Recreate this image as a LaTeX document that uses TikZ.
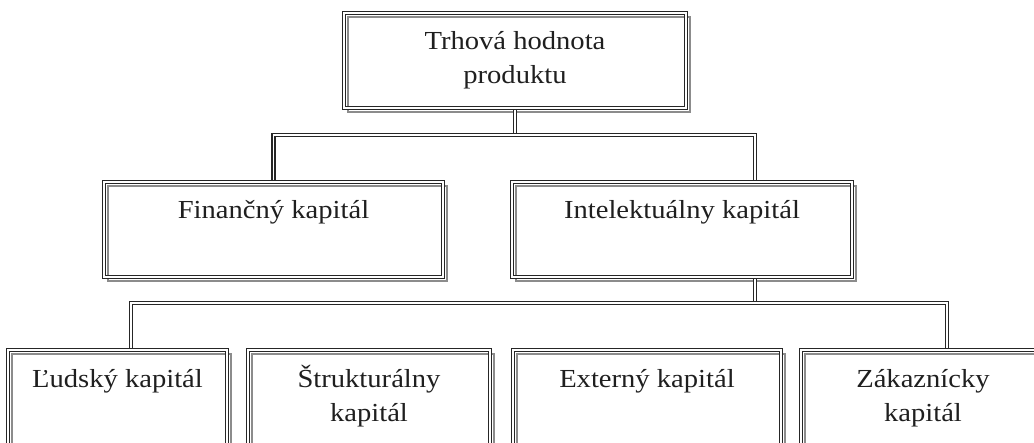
\documentclass[tikz,border=0pt]{standalone}
\usepackage{fontspec}
\setmainfont[FakeStretch=1.1]{Liberation Serif}
\begin{document}
\begin{tikzpicture}[x=1pt,y=-1pt,
  frame/.style={draw=black!85, line width=1.7pt, double=white, double distance=1.1pt,
    rectangle, outer sep=0pt, inner sep=0pt, anchor=north west,
    preaction={draw=black!45, line width=1.7pt,
      transform canvas={xshift=4pt,yshift=-4pt}}},
  lbl/.style={font=\fontsize{26}{34}\selectfont, text=black!88, inner sep=0pt,
    align=center, anchor=base},
  conn/.style={draw=black!85, line width=1.7pt, double=white, double distance=1.1pt}]
\useasboundingbox (0,0) rectangle (1034,443);
\clip (0,0) rectangle (1034,443);

% boxes
\node[frame, minimum width=342pt, minimum height=95pt] (top) at (344,13) {};
\node[frame, minimum width=339pt, minimum height=95pt] (fin) at (104,182) {};
\node[frame, minimum width=340pt, minimum height=95pt] (int) at (512,182) {};
\node[frame, minimum width=219pt, minimum height=110pt] (lud) at (8,350) {};
\node[frame, minimum width=242pt, minimum height=110pt] (str) at (248,350) {};
\node[frame, minimum width=268pt, minimum height=110pt] (ext) at (513,350) {};
\node[frame, minimum width=244pt, minimum height=110pt] (zak) at (801,350) {};

% labels (a node's base anchor sits on its last line)
\node[lbl] (top-t) at ([yshift=-71pt]top.north) {Trhová hodnota\\produktu};
\node[lbl] (fin-t) at ([yshift=-37pt]fin.north) {Finančný kapitál};
\node[lbl] (int-t) at ([yshift=-37pt]int.north) {Intelektuálny kapitál};
\node[lbl] (lud-t) at ([yshift=-38pt]lud.north) {Ľudský kapitál};
\node[lbl] (str-t) at ([yshift=-72pt]str.north) {Štrukturálny\\kapitál};
\node[lbl] (ext-t) at ([yshift=-38pt]ext.north) {Externý kapitál};
\node[lbl] (zak-t) at ([yshift=-72pt]zak.north) {Zákaznícky\\kapitál};

% connector points
\coordinate (h1) at (0,135);
\coordinate (h2) at (0,303);
\coordinate (ia) at ([xshift=73pt]int.north);
\coordinate (ib) at ([xshift=73pt]int.south);
\coordinate (la) at ([xshift=13.5pt]lud.north);
\coordinate (za) at ([xshift=24pt]zak.north);

% connectors
\draw[conn, shorten <=2pt] (top.south) -- (top.south |- h1);
\draw[conn, shorten >=2pt, shorten <=2pt] (fin.north) |- (ia |- h1) -- (ia);
\draw[conn, shorten <=2pt] (ib) -- (ib |- h2);
\draw[conn, shorten >=2pt, shorten <=2pt] (la) |- (za |- h2) -- (za);
\end{tikzpicture}
\end{document}
